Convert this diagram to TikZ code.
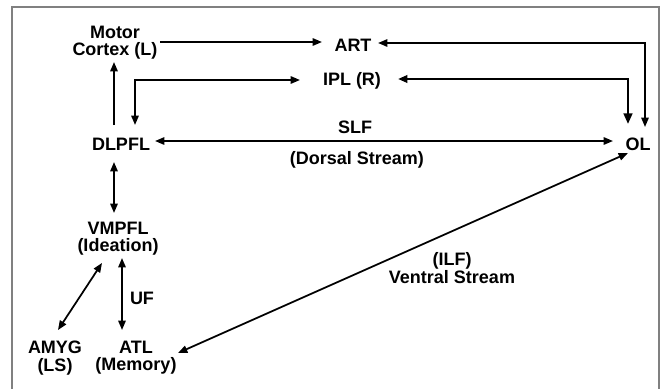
\documentclass[tikz,border=0pt]{standalone}
\usepackage{fontspec}
\setmainfont{Liberation Sans}
\usetikzlibrary{arrows.meta,calc}
\begin{document}
\begin{tikzpicture}[x=0.75pt,y=-0.75pt,
  lbl/.style={inner sep=0pt,align=center,font=\fontsize{13.5}{13}\selectfont\bfseries},
  conn/.style={line width=1.3pt,{Triangle[length=7pt,width=5.5pt]}-{Triangle[length=7pt,width=5.5pt]}},
  oneway/.style={line width=1.3pt,-{Triangle[length=7pt,width=5.5pt]}},
  thickconn/.style={line width=1.8pt,{Triangle[length=7pt,width=5.5pt]}-{Triangle[length=8pt,width=6.5pt]}},
  frame/.style={draw=gray,line width=1.2pt}]
\useasboundingbox (0,0) rectangle (661,389);
\draw[frame] (12,389) -- (12,7) -- (659,7) -- (659,389);
% nodes
\node[lbl] (mc) at (115,43) {Motor\\Cortex (L)};
\node[lbl] (art) at (353,45) {ART};
\node[lbl] (ipl) at (352,81) {IPL (R)};
\node[lbl] (dl) at (121,144) {DLPFL};
\node[lbl] (slf) at (355,127) {SLF};
\node[lbl] (dors) at (357,160) {(Dorsal Stream)};
\node[lbl] (ol) at (638,144) {OL};
\node[lbl] (vm) at (118,239) {VMPFL\\(Ideation)};
\node[lbl] (uf) at (142,298) {UF};
\node[lbl] (amyg) at (55,358) {AMYG\\(LS)};
\node[lbl] (atl) at (136,358) {ATL\\(Memory)};
\node[lbl] (ilf) at (452,268) {(ILF)\\Ventral Stream};
% connectors
\draw[oneway] ($(mc)+(45,-1)$) -- ($(art)+(-31,-3)$);
\draw[oneway] ($(dl)+(-7,-19)$) -- ($(mc)+(-1,19)$);
\draw[conn] ($(dl)+(14,-19)$) |- ($(ipl)+(-52,-1)$);
\draw[conn] ($(dl)+(34,-3)$) -- ($(ol)+(-25,-3)$);
\draw[conn] ($(art)+(25,-2)$) -| ($(ol)+(7,-17)$);
\draw[thickconn] ($(ipl)+(46,-2)$) -| ($(ol)+(-10,-20)$);
\draw[conn] ($(ol)+(-10,9)$) -- ($(atl)+(42,-5)$);
\draw[conn] ($(dl)+(-7,18)$) -- ($(vm)+(-4,-26)$);
\draw[conn] ($(amyg)+(3,-28)$) -- ($(vm)+(-16,24)$);
\draw[conn] ($(vm)+(4,19)$) -- ($(atl)+(-14,-28)$);
\end{tikzpicture}
\end{document}
